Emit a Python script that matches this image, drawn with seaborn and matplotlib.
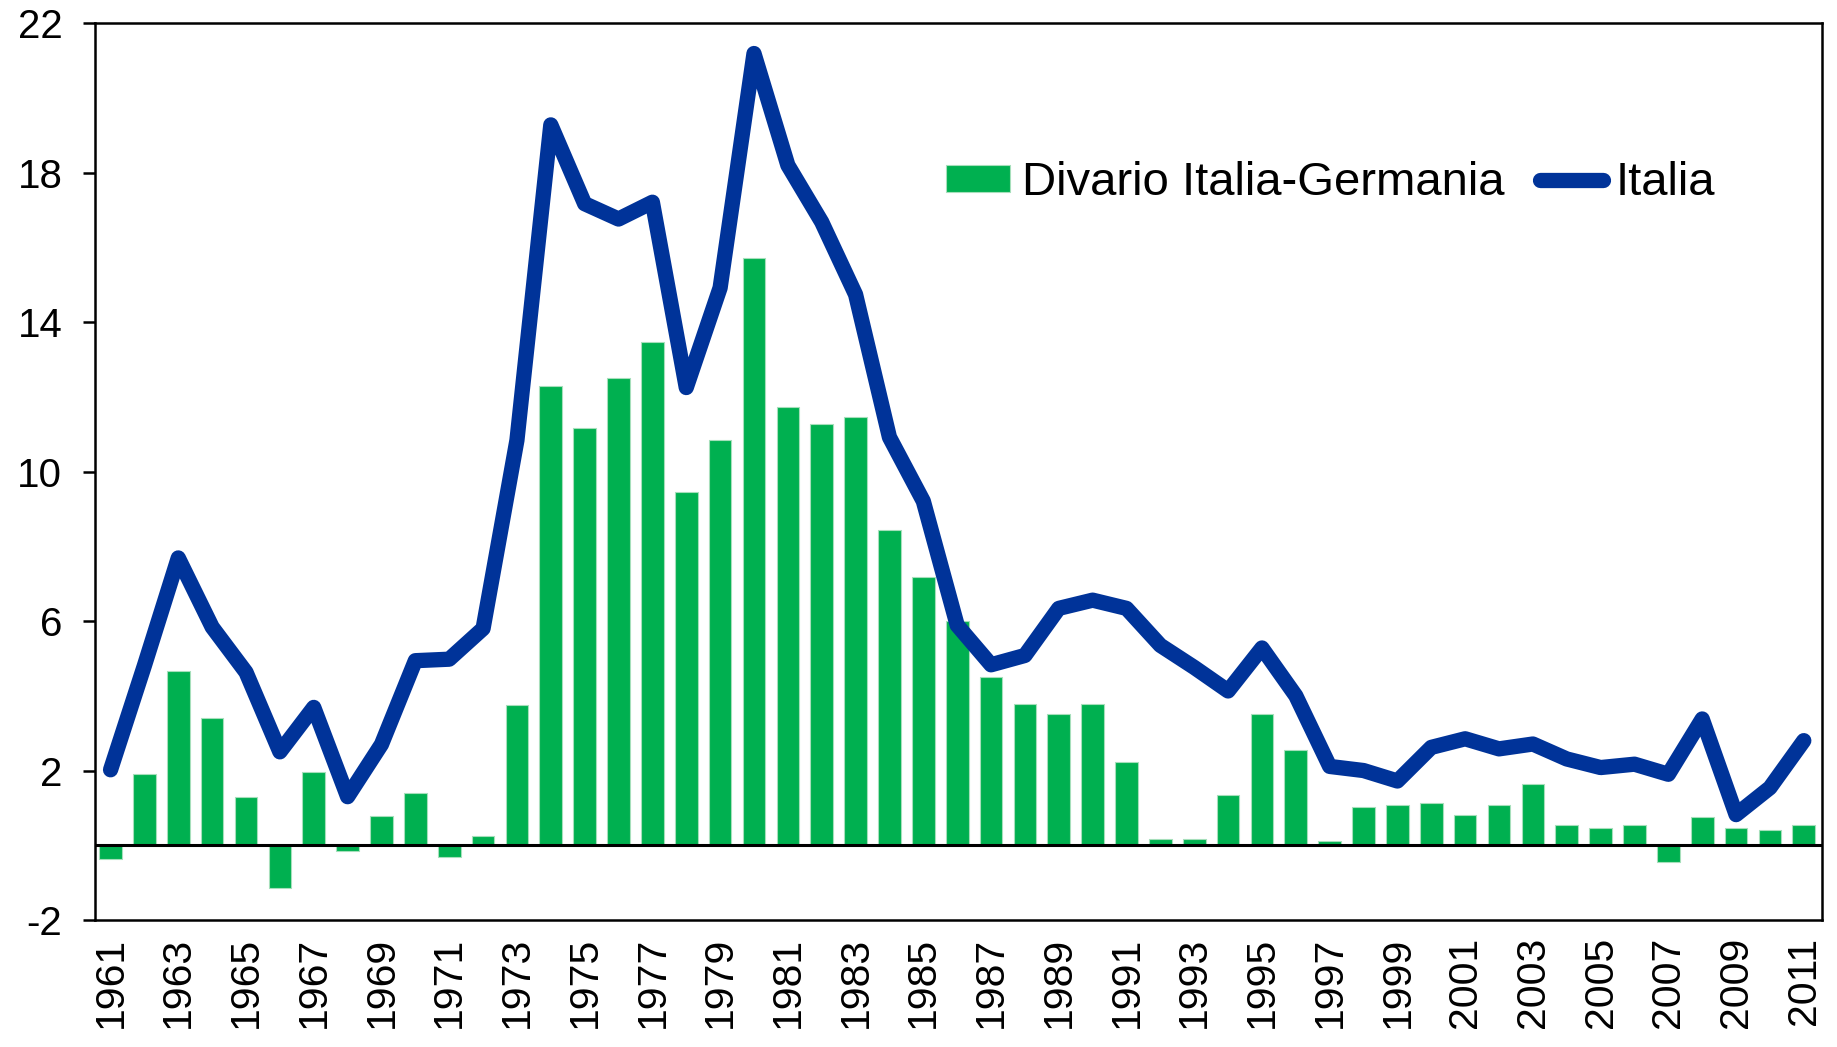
import numpy as np
import pandas as pd
import matplotlib
matplotlib.use("Agg")
import matplotlib.pyplot as plt
import seaborn as sns

# --- dati ---
anni = list(range(1961, 2012))

divario = [-0.37, 1.91, 4.67, 3.40, 1.29, -1.14, 1.96, -0.14, 0.78, 1.39,
           -0.31, 0.24, 3.75, 12.29, 11.17, 12.51, 13.46, 9.46, 10.85, 15.73,
           11.73, 11.28, 11.46, 8.45, 7.17, 6.00, 4.51, 3.79, 3.51, 3.79,
           2.23, 0.16, 0.16, 1.35, 3.51, 2.56, 0.12, 1.03, 1.07, 1.14,
           0.80, 1.07, 1.64, 0.53, 0.47, 0.53, -0.46, 0.75, 0.47, 0.42, 0.53]

italia = [2.02, 4.81, 7.69, 5.84, 4.63, 2.50, 3.69, 1.30, 2.70, 4.94,
          4.98, 5.80, 10.84, 19.28, 17.17, 16.76, 17.21, 12.25, 14.92, 21.19,
          18.20, 16.68, 14.74, 10.92, 9.21, 5.89, 4.83, 5.08, 6.34, 6.56,
          6.34, 5.35, 4.76, 4.13, 5.28, 4.00, 2.11, 2.00, 1.72, 2.62,
          2.85, 2.58, 2.71, 2.31, 2.08, 2.17, 1.90, 3.38, 0.82, 1.54, 2.80]

yticks = [-2, 2, 6, 10, 14, 18, 22]

VERDE = "#00B050"
BLU = "#003399"

df = pd.DataFrame({"anno": [str(a) for a in anni], "divario": divario, "italia": italia})
df["pos"] = np.arange(len(df))

sns.set_style("white")
plt.rcParams["font.family"] = ["Liberation Sans", "DejaVu Sans"]
plt.rcParams["text.color"] = "black"
plt.rcParams["xtick.color"] = "black"
plt.rcParams["ytick.color"] = "black"

fig = plt.figure(figsize=(18.37, 10.47), dpi=100)
ax = fig.add_axes([0.0517, 0.1213, 0.9400, 0.8565])

# barre: divario Italia-Germania
sns.barplot(data=df, x="anno", y="divario", color=VERDE, saturation=1,
            width=0.67, edgecolor="#a6dfbb", linewidth=0.8,
            label="Divario Italia-Germania", ax=ax, zorder=2)

ax.axhline(0, color="black", lw=2.2, zorder=2.5)

# linea: Italia
sns.lineplot(data=df, x="pos", y="italia", color=BLU, lw=11,
             solid_capstyle="round", solid_joinstyle="round",
             label="Italia", ax=ax, zorder=3)

ax.set_xlim(-0.46, 50.53)
ax.set_ylim(-2, 22)
ax.set_yticks(yticks)
ax.set_yticklabels([str(t) for t in yticks])
ax.set_xticks(df["pos"][::2])
ax.set_xticklabels(df["anno"][::2], rotation=90)
ax.set_xlabel("")
ax.set_ylabel("")

ax.tick_params(axis="y", direction="out", length=8.5, width=1.8, pad=15,
               labelsize=29, left=True, colors="black")
ax.tick_params(axis="x", length=0, pad=12, labelsize=29.5, colors="black")

for s in ax.spines.values():
    s.set_visible(True)
    s.set_color("black")
    s.set_linewidth(1.8)

handles, labels = ax.get_legend_handles_labels()
ordine = [labels.index("Divario Italia-Germania"), labels.index("Italia")]
ax.legend([handles[i] for i in ordine], [labels[i] for i in ordine],
          loc="center left", bbox_to_anchor=(0.493, 0.822),
          ncol=2, frameon=False, fontsize=34, borderpad=0, borderaxespad=0,
          handlelength=1.35, handleheight=0.5, handletextpad=0.25,
          columnspacing=0.75)

fig.savefig("out.png", dpi=100)
